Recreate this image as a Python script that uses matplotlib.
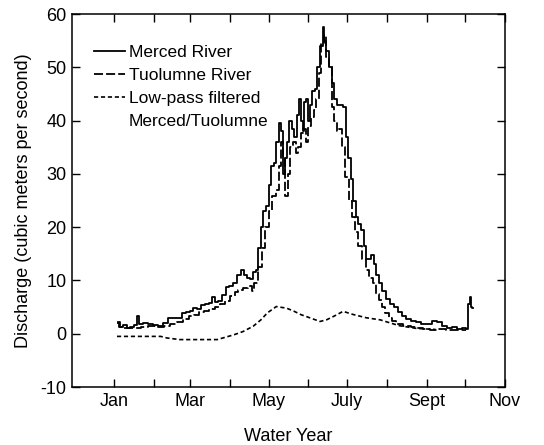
import matplotlib
matplotlib.use("Agg")
import matplotlib.pyplot as plt
from matplotlib.lines import Line2D

plt.rcParams['font.family'] = ['Liberation Sans', 'DejaVu Sans']
plt.rcParams['lines.scale_dashes'] = False
plt.rcParams['axes.unicode_minus'] = False

# day of year (0 = Jan 1) and discharge in m3/s
merced_day = [3, 5, 8, 11, 14, 17, 18, 20, 24, 28, 32, 36, 40, 43, 47, 51, 54, 57,
              60, 63, 66, 69, 72, 75, 77, 79, 82, 85, 88, 91, 94, 97, 100, 102, 104,
              107, 109, 111, 113, 115, 117, 119, 121, 123, 125, 127, 129, 130, 132,
              134, 135, 137, 139, 141, 143, 145, 146, 147, 148, 150, 151, 153, 155,
              157, 159, 161, 163, 164, 166, 168, 170, 172, 174, 177, 179, 181, 183,
              185, 187, 189, 191, 193, 195, 197, 199, 201, 203, 205, 207, 210, 213,
              216, 219, 222, 225, 229, 233, 237, 241, 245, 249, 253, 257, 261, 265,
              269, 272, 275, 276, 277, 278, 279]
merced_q = [2.2, 1.2, 1.6, 1.0, 1.3, 1.6, 3.3, 1.8, 2.0, 1.8, 1.6, 1.5, 2.0, 3.0, 3.0,
            3.0, 3.8, 4.0, 4.3, 4.8, 4.7, 5.4, 5.5, 5.8, 6.8, 6.0, 6.2, 7.2, 8.8, 9.0,
            9.6, 11.0, 12.0, 11.0, 10.5, 10.2, 11.5, 12.0, 16.0, 20.0, 23.0, 24.0,
            28.0, 31.5, 32.0, 36.0, 39.5, 38.0, 30.0, 33.0, 36.0, 40.0, 38.5, 37.0,
            41.0, 44.0, 40.0, 38.0, 43.5, 44.0, 40.0, 43.0, 45.5, 46.0, 50.0, 54.0,
            57.5, 55.0, 53.0, 50.0, 47.0, 44.0, 43.0, 43.0, 42.5, 37.0, 33.0, 29.0,
            25.0, 22.0, 20.5, 19.5, 16.5, 14.0, 14.0, 14.8, 13.0, 11.0, 9.5, 8.0,
            6.5, 5.5, 5.0, 4.0, 3.3, 2.8, 2.4, 2.2, 1.8, 1.8, 2.4, 2.2, 1.5, 1.0,
            1.2, 0.8, 1.0, 0.8, 5.5, 6.8, 5.0, 4.8]

tuol_day = [2, 5, 10, 15, 19, 23, 30, 36, 41, 46, 51, 56, 60, 64, 68, 72, 76, 80, 84,
            88, 92, 95, 98, 102, 106, 108, 110, 113, 116, 119, 122, 124, 127, 129,
            131, 132, 134, 136, 138, 140, 142, 144, 146, 148, 150, 152, 154, 156,
            158, 160, 162, 164, 166, 168, 170, 172, 174, 176, 178, 181, 184, 186,
            189, 191, 194, 197, 200, 202, 205, 207, 210, 212, 215, 217, 222, 228,
            233, 238, 243, 248, 255, 262, 268, 274]
tuol_q = [2.0, 1.2, 1.0, 1.1, 1.0, 1.3, 1.4, 1.3, 1.4, 1.8, 2.2, 2.8, 3.3, 3.5, 4.0,
          4.2, 4.6, 5.0, 5.5, 6.1, 7.0, 7.8, 8.3, 8.6, 8.9, 8.0, 9.5, 12.6, 16.0,
          20.0, 23.0, 25.8, 27.0, 31.4, 36.0, 33.0, 25.8, 30.0, 35.0, 36.0, 34.0,
          35.0, 37.6, 38.5, 36.0, 39.0, 40.7, 42.0, 44.0, 49.0, 54.5, 56.0, 52.0,
          50.0, 42.6, 40.0, 38.0, 38.5, 35.0, 29.5, 25.0, 22.0, 19.0, 16.4, 14.0,
          12.0, 10.5, 9.5, 7.5, 6.4, 5.0, 3.9, 3.0, 2.3, 1.8, 1.4, 1.2, 1.0, 0.9,
          0.75, 0.8, 0.7, 0.75, 0.7]

lp_day = [2, 20, 36, 41, 51, 65, 80, 93, 100, 108, 114, 119, 126, 134, 140, 145, 152,
          160, 165, 171, 178, 186, 196, 207, 215, 222, 235, 250]
lp_q = [-0.5, -0.5, -0.5, -0.8, -1.1, -1.1, -1.1, -0.2, 0.4, 1.4, 2.6, 3.9, 5.1, 4.8,
        4.2, 3.6, 3.0, 2.3, 2.6, 3.3, 4.2, 3.6, 3.0, 2.6, 2.0, 1.5, 1.0, 0.8]

month_start = [0, 31, 59, 90, 120, 151, 181, 212, 243, 273, 304]
month_labels = ['Jan', '', 'Mar', '', 'May', '', 'July', '', 'Sept', '', 'Nov']

fig = plt.figure(figsize=(5.44, 4.45), dpi=100)
ax = fig.add_axes([0.1324, 0.1303, 0.7958, 0.8382])

ax.plot(merced_day, merced_q, color='black', lw=1.3, drawstyle='steps-mid')
ax.plot(tuol_day, tuol_q, color='black', lw=1.3, drawstyle='steps-mid',
        linestyle=(0, (6.5, 2.2)))
ax.plot(lp_day, lp_q, color='black', lw=1.2, linestyle=(0, (3, 2)))

ax.set_xlim(-33, 304)
ax.set_ylim(-10, 60)
ax.set_xticks(month_start)
ax.set_xticklabels(month_labels)
ax.set_yticks(range(-10, 61, 10))
ax.tick_params(direction='in', length=6, width=1, top=True, right=True,
               labelsize=13, pad=4)
for s in ax.spines.values():
    s.set_linewidth(1.1)

ax.set_xlabel('Water Year', fontsize=13, labelpad=13)
ax.set_ylabel('Discharge (cubic meters per second)', fontsize=13, labelpad=6)

handles = [
    Line2D([], [], color='black', lw=1.3),
    Line2D([], [], color='black', lw=1.3, linestyle=(0, (6.5, 2.2))),
    Line2D([], [], color='black', lw=1.2, linestyle=(0, (3, 2))),
    Line2D([], [], color='none'),
]
labels = ['Merced River', 'Tuolumne River', 'Low-pass filtered', 'Merced/Tuolumne']
ax.legend(handles, labels, loc='upper left', bbox_to_anchor=(0.035, 0.935),
          frameon=False, fontsize=12.5, handlelength=1.75, handletextpad=0.25,
          labelspacing=0.45, borderaxespad=0)

fig.savefig('out.png', dpi=100)
